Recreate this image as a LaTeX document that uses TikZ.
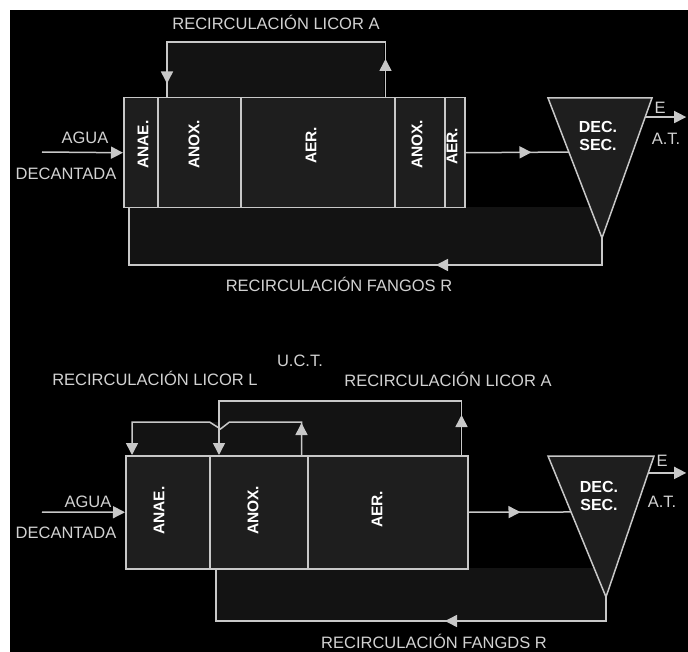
\documentclass[tikz,border=0pt]{standalone}
\usepackage{fontspec}
\setmainfont{Liberation Sans}
\usetikzlibrary{arrows.meta,decorations.markings,calc}
\definecolor{linegray}{HTML}{C8C8C8}
\definecolor{tankgray}{HTML}{1E1E1E}
\definecolor{loopgray}{HTML}{131313}
\definecolor{textgray}{HTML}{D2D2D2}
\tikzset{
  pipe/.style={draw=linegray,line width=1.5pt},
  feed/.style={pipe,-{Triangle[width=12pt,length=12pt]}},
  arrowat/.style={postaction={decorate,decoration={markings,
    mark=at position #1 with {\arrow[linegray]{Triangle[width=12pt,length=12pt]}}}}},
  zone/.style={draw=linegray,line width=1.5pt,fill=tankgray,inner sep=0pt,
    anchor=north west},
  zonelbl/.style={rotate=90,anchor=west,inner sep=0pt,text=white,
    font=\fontsize{15.5}{15.5}\selectfont\bfseries},
  lbl/.style={text=textgray,inner sep=0pt,text height=11.8pt,text depth=0pt,
    font=\fontsize{16.5}{18}\selectfont},
  declbl/.style={text=white,inner sep=0pt,align=center,
    font=\fontsize{16}{18}\selectfont\bfseries}
}
\begin{document}
\begin{tikzpicture}[x=1pt,y=-1pt]
  \useasboundingbox (0,0) rectangle (688,652);
  \fill[white] (0,0) rectangle (688,652);
  \fill[black] (10,10) rectangle (688,652);

  % loop areas
  \fill[loopgray] (167,42) rectangle (384,97);
  \fill[loopgray] (129,207) rectangle (602,265);
  \fill[loopgray] (219,401) rectangle (460,455);
  \fill[loopgray] (132,422) rectangle (300,455);
  \fill[loopgray] (216,568) rectangle (606,621);

  % ---- upper plant
  \node[lbl] (rlaT) at (276,24) {RECIRCULACIÓN LICOR A};
  \node[zone,minimum width=34pt,minimum height=110pt] (anaeT) at (123,97) {};
  \node[zone,minimum width=83pt,minimum height=110pt] (anoxT) at (157,97) {};
  \node[zone,minimum width=154pt,minimum height=110pt] (aerT) at (240,97) {};
  \node[zone,minimum width=50pt,minimum height=110pt] (anoxTT) at (394,97) {};
  \node[zone,minimum width=20pt,minimum height=110pt] (aerTT) at (444,97) {};
  \node[zonelbl] (lAnaeT) at (143,169) {ANAE.};
  \node[zonelbl] (lAnoxT) at (194,169) {ANOX.};
  \node[zonelbl] (lAerT) at (311,164) {AER.};
  \node[zonelbl] (lAnoxTT) at (417,169) {ANOX.};
  \node[zonelbl] (lAerTT) at (452,165) {AER.};

  \coordinate (dT1) at (548,98);
  \coordinate (dT2) at (652,98);
  \coordinate (dT3) at (602,238);
  \draw[pipe,fill=tankgray] (dT1) -- (dT2) -- (dT3) -- cycle;
  \node[declbl] (decT) at (598,136) {DEC.\\SEC.};

  \coordinate (inT) at (42,152);
  \node[lbl] (aguaT) at (85,138) {AGUA};
  \node[lbl] (decaT) at (66,174) {DECANTADA};
  \draw[feed] (inT) -- (anaeT.west);

  \draw[pipe,arrowat=38pt,arrowat=315pt]
    ([xshift=-10pt]aerT.north east) -- ++(0,-55) -| ([xshift=10pt]anoxT.north west);
  \draw[pipe,arrowat=66pt] (aerTT.east) -- ($(dT1)!0.386!(dT3)$);
  \draw[feed] ($(dT2)!0.136!(dT3)$) -- ++(41,0);
  \node[lbl] (eT) at (660,108) {E};
  \node[lbl] (atT) at (666,139) {A.T.};
  \draw[pipe,arrowat=193pt] (dT3) -- ++(0,27) -| ([xshift=6pt]anaeT.south west);
  \node[lbl] (rfT) at (339,286) {RECIRCULACIÓN FANGOS R};

  % ---- lower plant (U.C.T.)
  \node[lbl] (uct) at (300,361) {U.C.T.};
  \node[lbl] (rlL) at (155,380) {RECIRCULACIÓN LICOR L};
  \node[lbl] (rlaB) at (448,381) {RECIRCULACIÓN LICOR A};
  \node[zone,minimum width=84pt,minimum height=113pt] (anaeB) at (125,455) {};
  \node[zone,minimum width=98pt,minimum height=113pt] (anoxB) at (209,455) {};
  \node[zone,minimum width=160pt,minimum height=113pt] (aerB) at (307,455) {};
  \node[zonelbl] (lAnaeB) at (159,535) {ANAE.};
  \node[zonelbl] (lAnoxB) at (253,535) {ANOX.};
  \node[zonelbl] (lAerB) at (377,528) {AER.};

  \coordinate (dB1) at (548,456);
  \coordinate (dB2) at (654,456);
  \coordinate (dB3) at (606,597);
  \draw[pipe,fill=tankgray] (dB1) -- (dB2) -- (dB3) -- cycle;
  \node[declbl] (decB) at (599,496) {DEC.\\SEC.};

  \coordinate (inB) at (42,512);
  \node[lbl] (aguaB) at (88,502) {AGUA};
  \node[lbl] (decaB) at (66,533) {DECANTADA};
  \draw[feed] (inB) -- (anaeB.west);

  \draw[feed,arrowat=40pt]
    ([xshift=-7pt]aerB.north east) -- ++(0,-54) -| ([xshift=10pt]anoxB.north west);
  \draw[feed,arrowat=32pt]
    ([xshift=-7pt]anoxB.north east) -- ++(0,-33) -- ++(-72,0) -- ++(-9,7)
    -- ++(-11,-7) -| ([xshift=7pt]anaeB.north west);
  \draw[pipe,arrowat=52pt] (aerB.east) -- ($(dB1)!0.397!(dB3)$);
  \draw[feed] ($(dB2)!0.12!(dB3)$) -- ++(38,0);
  \node[lbl] (eB) at (662,461) {E};
  \node[lbl] (atB) at (662,502) {A.T.};
  \draw[pipe,arrowat=185pt] (dB3) -- ++(0,24) -| ([xshift=7pt]anoxB.south west);
  \node[lbl] (rfB) at (434,643) {RECIRCULACIÓN FANGDS R};
\end{tikzpicture}
\end{document}
